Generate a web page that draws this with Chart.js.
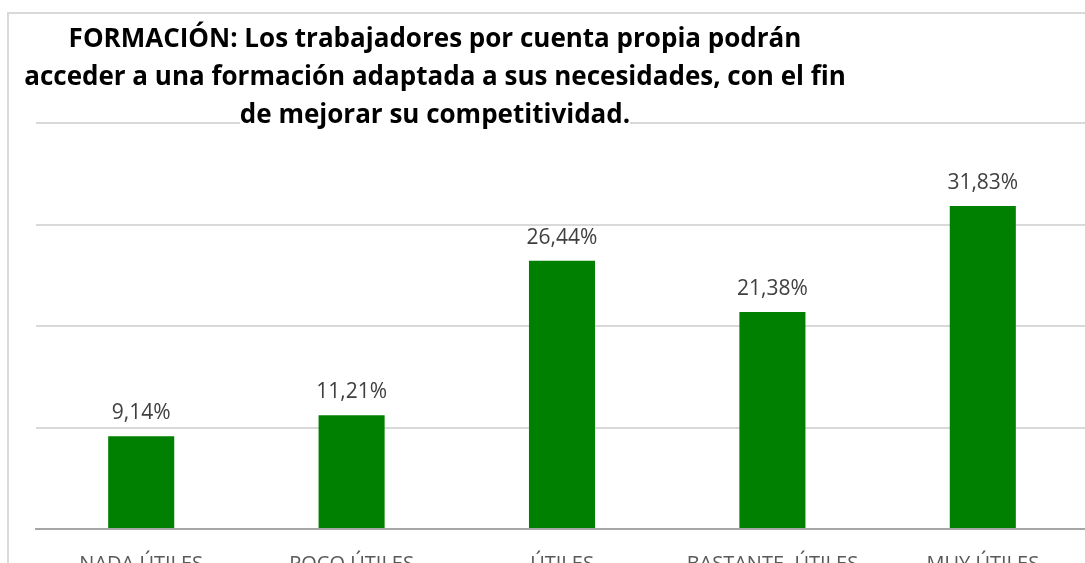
<!DOCTYPE html>
<html lang="es">
<head>
  <meta charset="UTF-8" />
  <title>Formación - trabajadores por cuenta propia</title>
  <script src="https://cdn.jsdelivr.net/npm/chart.js"></script>
  <style>
    html, body { margin: 0; padding: 0; background: #fff; overflow: hidden; }
    body { width: 1085px; height: 563px; position: relative; }
    .frame {
      position: absolute; left: 7px; top: 12px; width: 2000px; height: 2000px;
      border-left: 2px solid #d9d9d9; border-top: 2px solid #d9d9d9;
    }
    .chart-box { position: absolute; left: 0; top: 0; width: 1095px; height: 590px; }
    .title {
      position: absolute; left: 0; top: 18px; width: 870px; text-align: center;
      font-family: "Open Sans", "Liberation Sans", sans-serif; font-weight: bold;
      font-size: 26px; line-height: 38px; color: #000;
    }
    .title span { background: #fff; }
  </style>
</head>
<body>
  <div class="frame"></div>
  <div class="chart-box"><canvas id="chart" width="1095" height="590"></canvas></div>
  <div class="title">
    <div><span>FORMACIÓN: Los trabajadores por cuenta propia podrán</span></div>
    <div><span>acceder a una formación adaptada a sus necesidades, con el fin</span></div>
    <div><span>de mejorar su competitividad.</span></div>
  </div>

  <script>
    const categories = ["NADA ÚTILES", "POCO ÚTILES", "ÚTILES", "BASTANTE  ÚTILES", "MUY ÚTILES"];
    const values = [9.14, 11.21, 26.44, 21.38, 31.83];
    const yTicks = [0, 10, 20, 30, 40];

    const fmt = v => v.toFixed(2).replace(".", ",") + "%";

    // value labels above each bar
    const barLabels = {
      id: "barLabels",
      afterDatasetsDraw(chart) {
        const ctx = chart.ctx;
        const meta = chart.getDatasetMeta(0);
        ctx.save();
        ctx.font = '21px "Open Sans", sans-serif';
        ctx.fillStyle = "#404040";
        ctx.textAlign = "center";
        ctx.textBaseline = "alphabetic";
        meta.data.forEach((bar, i) => {
          ctx.fillText(fmt(values[i]), bar.x, bar.y - 17);
        });
        ctx.restore();
      }
    };

    new Chart(document.getElementById("chart").getContext("2d"), {
      type: "bar",
      data: {
        labels: categories,
        datasets: [{
          data: values,
          backgroundColor: "#008000",
          borderWidth: 0,
          barPercentage: 0.314,
          categoryPercentage: 1
        }]
      },
      options: {
        responsive: false,
        animation: false,
        layout: { padding: { left: 36, right: 7, top: 123, bottom: 0 } },
        plugins: { legend: { display: false }, tooltip: { enabled: false } },
        scales: {
          x: {
            grid: { display: false },
            border: { display: true, color: "#a6a6a6", width: 2 },
            ticks: {
              color: "#595959",
              font: { family: '"Open Sans", sans-serif', size: 20 },
              padding: 15,
              maxRotation: 0,
              autoSkip: false
            },
            afterFit: s => { s.height = 61; }
          },
          y: {
            min: yTicks[0],
            max: yTicks[yTicks.length - 1],
            afterBuildTicks: s => { s.ticks = yTicks.map(v => ({ value: v })); },
            ticks: { display: false },
            grid: { color: "#d9d9d9", lineWidth: 2, drawTicks: false },
            border: { display: false }
          }
        }
      },
      plugins: [barLabels]
    });
  </script>
</body>
</html>
